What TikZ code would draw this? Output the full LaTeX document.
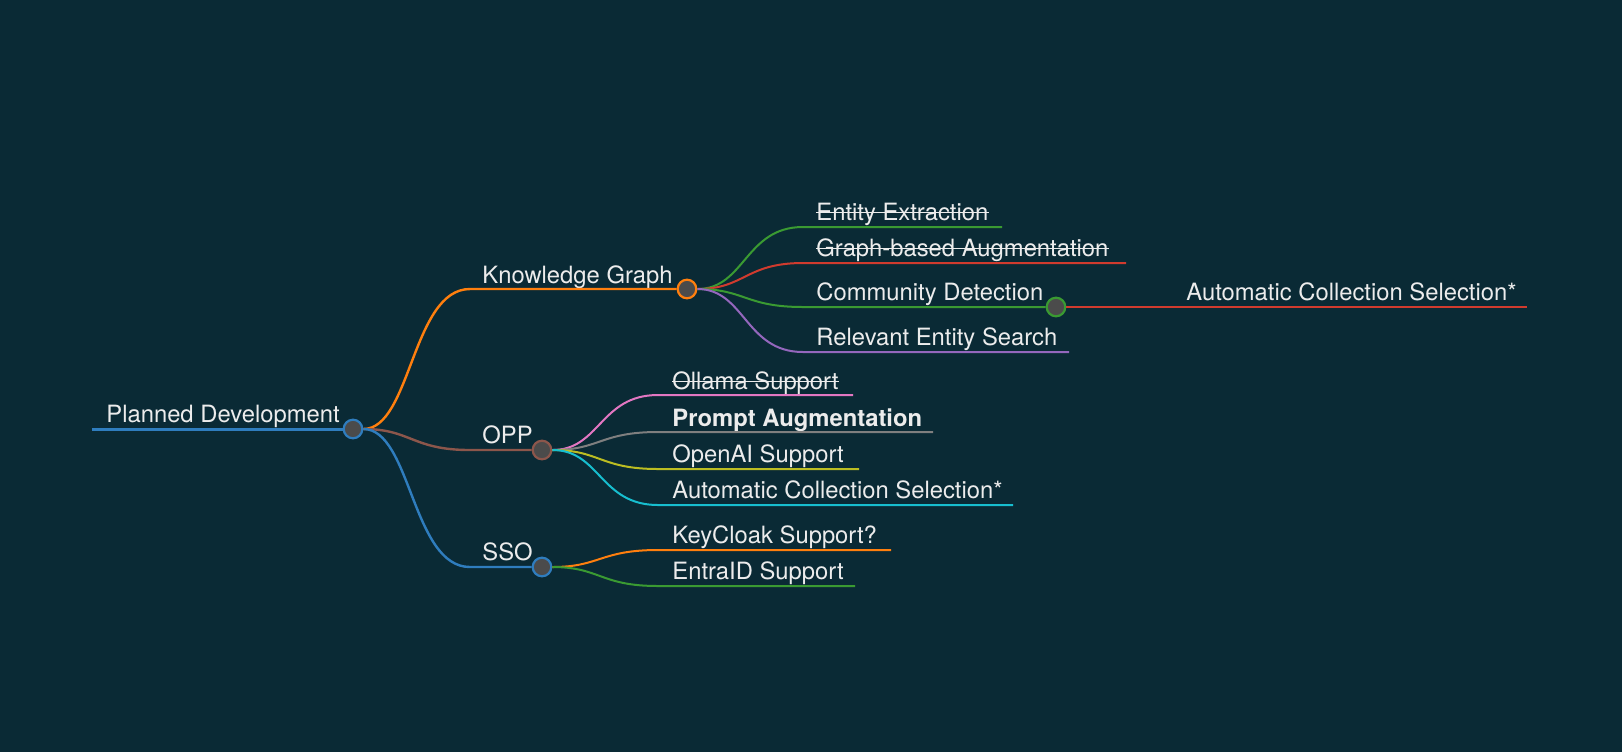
\documentclass[tikz,border=0pt]{standalone}
\usepackage{fontspec}
\setmainfont{TeX Gyre Heros}
\definecolor{bg}{HTML}{0A2A35}
\definecolor{hubgray}{HTML}{4B4B4B}
\definecolor{txt}{HTML}{ECECEC}
\definecolor{cblue}{HTML}{2F7DBE}
\definecolor{corange}{HTML}{FF7F0E}
\definecolor{cgreen}{HTML}{3A9A32}
\definecolor{cred}{HTML}{D13B2E}
\definecolor{cpurple}{HTML}{9467BD}
\definecolor{cbrown}{HTML}{8C564B}
\definecolor{cpink}{HTML}{E377C2}
\definecolor{cgray}{HTML}{7F7F7F}
\definecolor{colive}{HTML}{BCBD22}
\definecolor{ccyan}{HTML}{17BECF}
\newcommand\mapfont{\fontsize{11.9pt}{14pt}\selectfont}
\begin{document}
\begin{tikzpicture}[x=0.5pt,y=-0.5pt,
    hub/.style ={circle, draw, line width=1.1pt, fill=hubgray, inner sep=0pt, minimum size=9.3pt},
    leaf/.style ={anchor=base west, inner sep=0pt, text=txt, font=\mapfont},
    branch/.style ={to path={.. controls ([xshift=29pt]\tikztostart) and ([xshift=-29pt]\tikztotarget) .. (\tikztotarget)}},
    edge/.style ={line width=1pt},
    strike/.style ={draw=txt, line width=0.7pt}]
   \fill[bg] (0,0) rectangle (1622,752);
   % hubs
   \node[hub, draw=cblue] (root) at (353,429) {};
   \node[hub, draw=corange] (kg) at (687,289) {};
   \node[hub, draw=cbrown] (opp) at (542,450) {};
   \node[hub, draw=cblue] (sso) at (542,567) {};
   \node[hub, draw=cgreen] (cd) at (1056,307) {};
   % branch starts and ends
   \coordinate (rootS) at (92,429);
   \coordinate (kgS) at (470,289);
   \coordinate (oppS) at (470,450);
   \coordinate (ssoS) at (470,567);
   \coordinate (eeS) at (803,227);   \coordinate (eeE) at (1002,227);
   \coordinate (gaS) at (803,263);   \coordinate (gaE) at (1126,263);
   \coordinate (cdS) at (803,307);
   \coordinate (resS) at (803,352);  \coordinate (resE) at (1069,352);
   \coordinate (acsS) at (1173,307); \coordinate (acsE) at (1527,307);
   \coordinate (olS) at (658,395);   \coordinate (olE) at (853,395);
   \coordinate (paS) at (658,432);   \coordinate (paE) at (933,432);
   \coordinate (oaS) at (658,469);   \coordinate (oaE) at (859,469);
   \coordinate (ac2S) at (658,505);  \coordinate (ac2E) at (1013,505);
   \coordinate (kcS) at (658,550);   \coordinate (kcE) at (891,550);
   \coordinate (enS) at (658,586);   \coordinate (enE) at (855,586);
   % labels
   \node[leaf] (rootL) at (106,422) {Planned Development};
   \node[leaf] (kgL) at (482,283) {Knowledge Graph};
   \node[leaf] (oppL) at (482,443) {OPP};
   \node[leaf] (ssoL) at (482,560) {SSO};
   \node[leaf] (eeL) at (816,220) {Entity Extraction};
   \node[leaf] (gaL) at (816,256) {Graph-based Augmentation};
   \node[leaf] (cdL) at (816,300) {Community Detection};
   \node[leaf] (resL) at (816,345) {Relevant Entity Search};
   \node[leaf] (acsL) at (1186,300) {Automatic Collection Selection*};
   \node[leaf] (olL) at (672,389) {Ollama Support};
   \node[leaf, font=\mapfont\bfseries] (paL) at (672,426) {Prompt Augmentation};
   \node[leaf] (oaL) at (672,462) {OpenAI Support};
   \node[leaf] (ac2L) at (672,498) {Automatic Collection Selection*};
   \node[leaf] (kcL) at (672,543) {KeyCloak Support?};
   \node[leaf] (enL) at (672,579) {EntraID Support};
   % struck out items
   \draw[strike] ([yshift=3.8pt]eeL.base west) -- ([yshift=3.8pt]eeL.base east);
   \draw[strike] ([yshift=3.8pt]gaL.base west) -- ([yshift=3.8pt]gaL.base east);
   \draw[strike] ([yshift=3.8pt]olL.base west) -- ([yshift=3.8pt]olL.base east);
   % connectors
   \draw[edge, cblue, line width=1.5pt] (rootS) -- (root);
   \draw[edge, corange, line width=1.2pt] (root) to[branch] (kgS) -- (kg);
   \draw[edge, cbrown, line width=1.2pt] (root) to[branch] (oppS) -- (opp);
   \draw[edge, cblue, line width=1.2pt] (root) to[branch] (ssoS) -- (sso);
   \draw[edge, cgreen] (kg) to[branch] (eeS) -- (eeE);
   \draw[edge, cred] (kg) to[branch] (gaS) -- (gaE);
   \draw[edge, cgreen] (kg) to[branch] (cdS) -- (cd);
   \draw[edge, cpurple] (kg) to[branch] (resS) -- (resE);
   \draw[edge, cred] (cd) to[branch] (acsS) -- (acsE);
   \draw[edge, cpink] (opp) to[branch] (olS) -- (olE);
   \draw[edge, cgray] (opp) to[branch] (paS) -- (paE);
   \draw[edge, colive] (opp) to[branch] (oaS) -- (oaE);
   \draw[edge, ccyan] (opp) to[branch] (ac2S) -- (ac2E);
   \draw[edge, corange] (sso) to[branch] (kcS) -- (kcE);
   \draw[edge, cgreen] (sso) to[branch] (enS) -- (enE);
 \end{tikzpicture}
\end{document}
